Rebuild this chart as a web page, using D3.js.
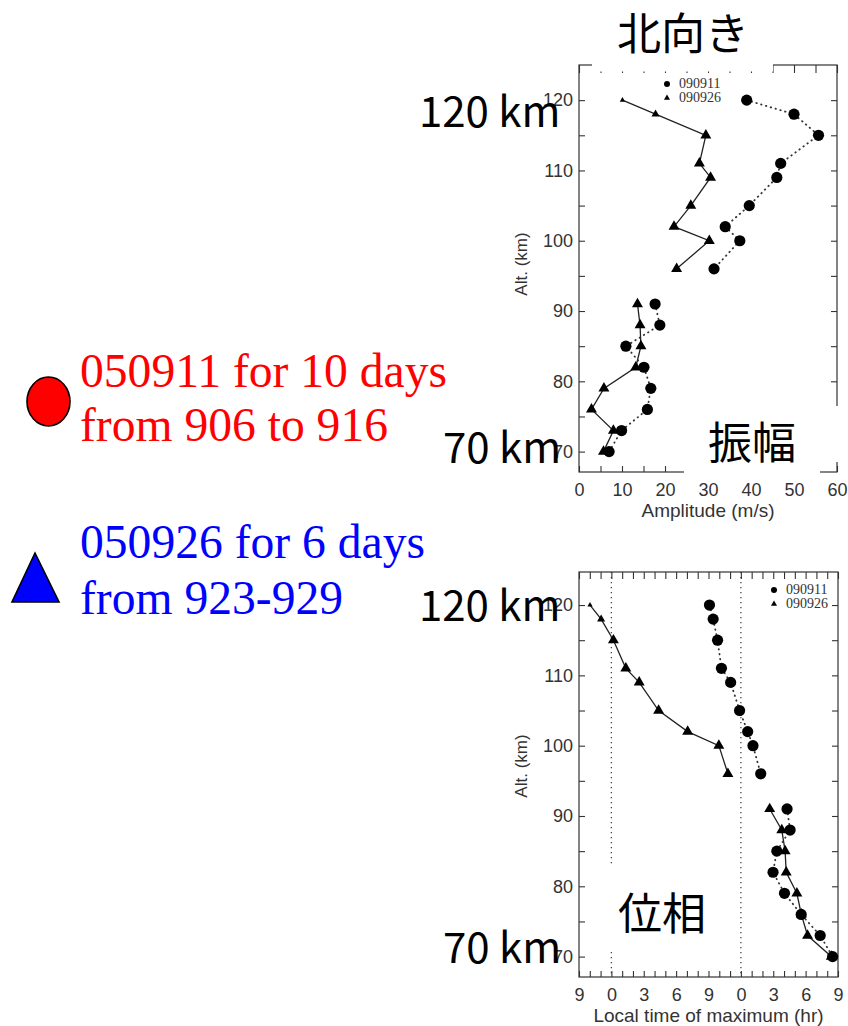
<!DOCTYPE html>
<html>
<head>
<meta charset="utf-8">
<script src="https://cdn.jsdelivr.net/npm/d3@7"></script>
<style>
  body { margin: 0; background: #fff; }
  svg { display: block; }
</style>
</head>
<body>
<div id="vis"></div>
<script>
// altitudes shared by both panels (km)
const ALTITUDES = [120, 118, 115, 111, 109, 105, 102, 100, 96, 91, 88, 85, 82, 79, 76, 73, 70];
// the profiles are broken between the meteor-radar and the lower layer
const GAP_ALT = 93.5;

// amplitude (m/s)
const AMP_090911 = [39.0, 50.0, 55.7, 46.9, 46.0, 39.6, 34.0, 37.4, 31.4, 17.7, 18.8, 10.9, 15.1, 16.7, 15.9, 9.9, 7.0];
const AMP_090926 = [10.1, 17.8, 29.5, 28.0, 30.6, 26.0, 22.1, 30.3, 22.7, 13.6, 14.2, 14.4, 13.2, 5.8, 2.9, 8.0, 5.7];

// local time of maximum (hr, continuous axis starting at 21h of the day before)
const PHASE_090911 = [9.09, 9.43, 9.84, 10.2, 11.05, 11.88, 12.63, 13.12, 13.84, 16.28, 16.56, 15.33, 14.98, 16.04, 17.59, 19.35, 20.5];
const PHASE_090926 = [-1.98, -0.95, 0.19, 1.34, 2.58, 4.38, 7.07, 9.96, 10.8, 14.67, 15.79, 16.1, 16.2, 17.19, 17.6, 18.18, 20.38];

// ticks
const ALT_TICKS = [70, 80, 90, 100, 110, 120];
const AMP_TICKS = [0, 10, 20, 30, 40, 50, 60];
const PHASE_TICKS = [-3, 0, 3, 6, 9, 12, 15, 18, 21];
const PHASE_TICK_LABELS = ["9", "0", "3", "6", "9", "0", "3", "6", "9"];
const PHASE_DAY_LINES = [0, 12];

const SERIES_NAMES = ["090911", "090926"];

const FRAME_WIDTH = 848;
const FRAME_HEIGHT = 1026;

const SVG = d3.select("#vis")
  .append("svg")
    .attr("width", FRAME_WIDTH)
    .attr("height", FRAME_HEIGHT);

const AXIS_FONT = "Liberation Sans, Arial, sans-serif";
const BIG_FONT = "Noto Sans CJK JP, Noto Sans, sans-serif";

function toPoints(values) {
  return ALTITUDES.map((a, i) => ({alt: a, v: values[i]}));
}

// marker size for triangles, the two uppermost ones are drawn smaller
function triSize(alt) {
  if (alt >= 120) return 12;
  if (alt >= 118) return 28;
  return 52;
}

function drawPanel(cfg) {
  const box = cfg.box;
  const X = d3.scaleLinear().domain(cfg.xDomain).range([box.left, box.right]);
  const Y = d3.scaleLinear().domain(cfg.yDomain).range([box.bottom, box.top]);
  const g = SVG.append("g");

  // extra dotted guide lines
  (cfg.guides || []).forEach(v => {
    g.append("line")
      .attr("x1", X(v)).attr("x2", X(v))
      .attr("y1", box.top).attr("y2", box.bottom)
      .attr("stroke", "#444")
      .attr("stroke-width", 1.3)
      .attr("stroke-dasharray", "1.3,3.7");
  });

  const yMinor = d3.range(70, 121, 5);

  g.append("g")
    .attr("transform", "translate(" + box.left + ",0)")
    .call(d3.axisLeft(Y).tickValues(yMinor).tickSize(-6).tickPadding(6)
      .tickFormat(d => ALT_TICKS.includes(d) ? d : ""))
    .call(a => a.select(".domain").remove());

  g.append("g")
    .attr("transform", "translate(" + box.right + ",0)")
    .call(d3.axisRight(Y).tickValues(yMinor).tickSize(-6).tickFormat(""))
    .call(a => a.select(".domain").remove());

  g.append("g")
    .attr("transform", "translate(0," + box.bottom + ")")
    .call(d3.axisBottom(X).tickValues(cfg.xMinor).tickSize(-6).tickPadding(11)
      .tickFormat(cfg.xFormat))
    .call(a => a.select(".domain").remove());

  g.append("g")
    .attr("transform", "translate(0," + box.top + ")")
    .call(d3.axisTop(X).tickValues(cfg.xMinor).tickSize(-cfg.topTick).tickFormat(""))
    .call(a => a.select(".domain").remove());

  g.selectAll(".tick line").attr("stroke", "#333").attr("stroke-width", 1.1);
  g.selectAll(".tick text")
    .attr("font-size", 18)
    .attr("font-family", AXIS_FONT)
    .attr("fill", "#333");

  g.append("rect")
    .attr("x", box.left).attr("y", box.top)
    .attr("width", box.right - box.left)
    .attr("height", box.bottom - box.top)
    .attr("fill", "none")
    .attr("stroke", "#333")
    .attr("stroke-width", 1.2);

  // axis titles
  g.append("text")
    .attr("x", (box.left + box.right) / 2)
    .attr("y", cfg.xTitleY)
    .attr("text-anchor", "middle")
    .attr("font-family", AXIS_FONT)
    .attr("font-size", 19)
    .attr("fill", "#333")
    .text(cfg.xTitle);

  g.append("text")
    .attr("transform", "translate(527," + cfg.yTitleY + ") rotate(-90)")
    .attr("text-anchor", "middle")
    .attr("font-family", AXIS_FONT)
    .attr("font-size", 17)
    .attr("fill", "#333")
    .text("Alt. (km)");

  const line = d3.line().x(d => X(d.v)).y(d => Y(d.alt));
  const circ = toPoints(cfg.circles);
  const tri = toPoints(cfg.triangles);
  const split = pts => [pts.filter(d => d.alt > GAP_ALT), pts.filter(d => d.alt < GAP_ALT)];

  g.selectAll(".triline")
    .data(split(tri))
    .enter()
    .append("path")
      .attr("class", "triline")
      .attr("d", line)
      .attr("fill", "none")
      .attr("stroke", "#222")
      .attr("stroke-width", 1.3);

  g.selectAll(".circline")
    .data(split(circ))
    .enter()
    .append("path")
      .attr("class", "circline")
      .attr("d", line)
      .attr("fill", "none")
      .attr("stroke", "#333")
      .attr("stroke-width", 1.8)
      .attr("stroke-linecap", "round")
      .attr("stroke-dasharray", "0.5,4.5");

  g.selectAll(".tri")
    .data(tri)
    .enter()
    .append("path")
      .attr("class", "tri")
      .attr("transform", d => "translate(" + X(d.v) + "," + Y(d.alt) + ")")
      .attr("d", d => d3.symbol().type(d3.symbolTriangle).size(triSize(d.alt))())
      .attr("fill", "#000");

  g.selectAll(".pt")
    .data(circ)
    .enter()
    .append("circle")
      .attr("class", "pt")
      .attr("cx", d => X(d.v))
      .attr("cy", d => Y(d.alt))
      .attr("r", 5.6)
      .attr("fill", "#000");

  // small legend inside the frame
  const lg = cfg.legend;
  g.append("circle")
    .attr("cx", lg.x).attr("cy", lg.y - 4)
    .attr("r", 3).attr("fill", "#000");
  g.append("path")
    .attr("transform", "translate(" + lg.x + "," + (lg.y + 10) + ")")
    .attr("d", d3.symbol().type(d3.symbolTriangle).size(16)())
    .attr("fill", "#000");
  SERIES_NAMES.forEach((name, i) => {
    g.append("text")
      .attr("x", lg.x + 12)
      .attr("y", lg.y + i * 14)
      .attr("font-family", "Liberation Serif, Times New Roman, serif")
      .attr("font-size", 14)
      .attr("fill", "#333")
      .text(name);
  });

  return g;
}

// amplitude panel
drawPanel({
  box: {left: 579, right: 837, top: 65, bottom: 472},
  xDomain: [0, 60],
  yDomain: [67.1, 125],
  xMinor: d3.range(0, 61, 5),
  xFormat: d => AMP_TICKS.includes(d) ? d : "",
  topTick: 8,
  xTitle: "Amplitude (m/s)",
  xTitleY: 517,
  yTitleY: 264,
  circles: AMP_090911,
  triangles: AMP_090926,
  legend: {x: 667, y: 88}
});

// phase panel
drawPanel({
  box: {left: 579, right: 838, top: 572, bottom: 977},
  xDomain: [-3, 21],
  yDomain: [67.1, 124.7],
  xMinor: d3.range(-3, 22, 1),
  xFormat: d => {
    const i = PHASE_TICKS.indexOf(d);
    return i >= 0 ? PHASE_TICK_LABELS[i] : "";
  },
  topTick: 7,
  guides: PHASE_DAY_LINES,
  xTitle: "Local time of maximum (hr)",
  xTitleY: 1022,
  yTitleY: 766,
  circles: PHASE_090911,
  triangles: PHASE_090926,
  legend: {x: 774, y: 594}
});

// white boxes behind the slide labels
SVG.append("rect")
  .attr("x", 592).attr("y", 0).attr("width", 181).attr("height", 71.5)
  .attr("fill", "#fff");
SVG.append("path")
  .attr("d", "M684,406 H839 V462 H820 V474 H684 Z")
  .attr("fill", "#fff");
SVG.append("rect")
  .attr("x", 604).attr("y", 866).attr("width", 112).attr("height", 84)
  .attr("fill", "#fff");

// slide labels
const BIG_LABELS = [
  {t: "北向き", x: 683, y: 50, a: "middle"},
  {t: "120 km", x: 419, y: 127, a: "start"},
  {t: "70 km", x: 443, y: 463, a: "start"},
  {t: "振幅", x: 752, y: 459, a: "middle"},
  {t: "120 km", x: 419, y: 621, a: "start"},
  {t: "70 km", x: 443, y: 963, a: "start"},
  {t: "位相", x: 662, y: 930, a: "middle"}
];

SVG.selectAll(".big")
  .data(BIG_LABELS)
  .enter()
  .append("text")
    .attr("class", "big")
    .attr("x", d => d.x)
    .attr("y", d => d.y)
    .attr("text-anchor", d => d.a)
    .attr("font-family", BIG_FONT)
    .attr("font-size", d => /km/.test(d.t) ? 42 : 44)
    .attr("fill", "#000")
    .text(d => d.t);

// left hand key
SVG.append("ellipse")
  .attr("cx", 48.5).attr("cy", 401.5)
  .attr("rx", 21.5).attr("ry", 24.5)
  .attr("fill", "#ff0000")
  .attr("stroke", "#000")
  .attr("stroke-width", 1.6);

SVG.append("path")
  .attr("d", "M35,553 L59,602 L12,602 Z")
  .attr("fill", "#0000ff")
  .attr("stroke", "#000")
  .attr("stroke-width", 1.6)
  .attr("stroke-linejoin", "miter");

const KEY_LINES = [
  {t: "050911 for 10 days", y: 387, c: "#ff0000"},
  {t: "from 906 to 916", y: 441, c: "#ff0000"},
  {t: "050926 for 6 days", y: 558, c: "#0000ff"},
  {t: "from 923-929", y: 614, c: "#0000ff"}
];

SVG.selectAll(".key")
  .data(KEY_LINES)
  .enter()
  .append("text")
    .attr("class", "key")
    .attr("x", 80)
    .attr("y", d => d.y)
    .attr("font-family", "Liberation Serif, Times New Roman, serif")
    .attr("font-size", 47.6)
    .attr("fill", d => d.c)
    .text(d => d.t);
</script>
</body>
</html>
